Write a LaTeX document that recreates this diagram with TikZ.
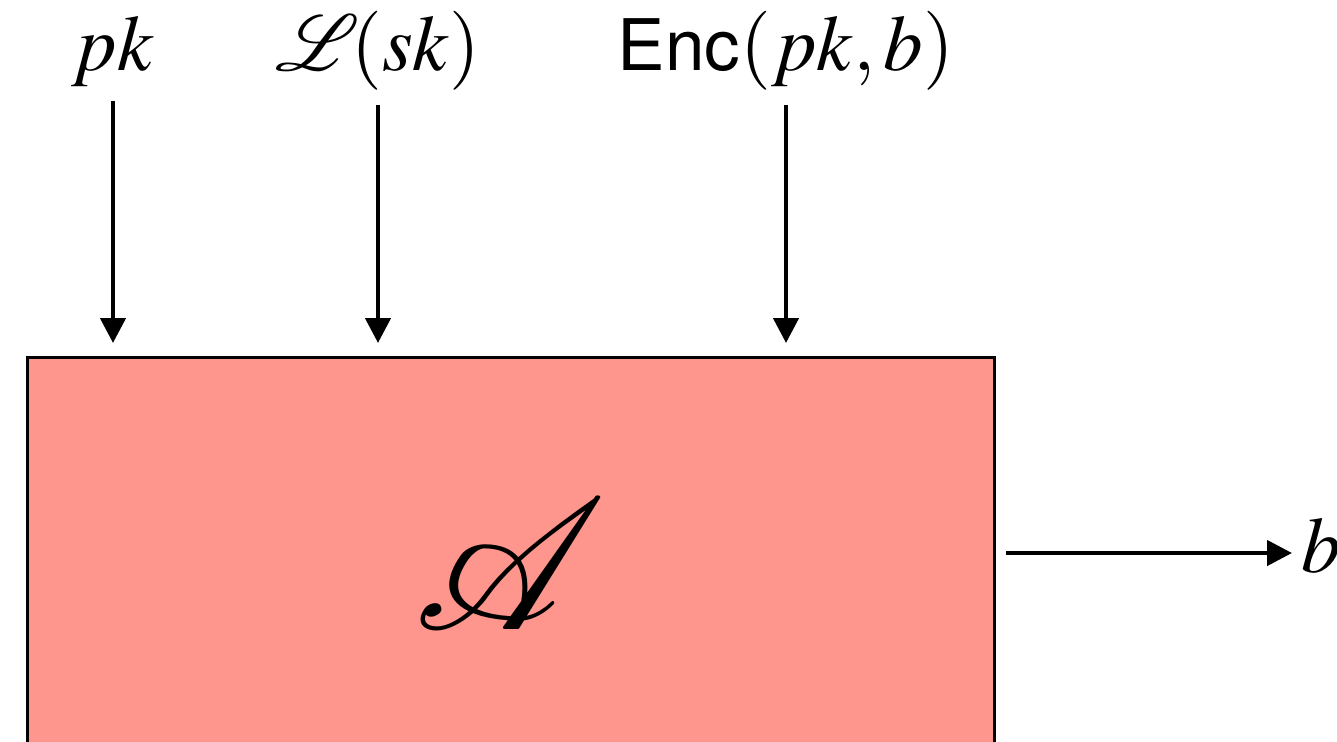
\documentclass[tikz,border=0pt]{standalone}
\usepackage{mathptmx}
\usepackage{mathrsfs}
\usepackage[no-math]{fontspec}
\setsansfont{TeX Gyre Heros}[Scale=0.9]
\usetikzlibrary{arrows.meta}
\DeclareFontFamily{U}{rsfs}{\skewchar\font127}
\DeclareFontShape{U}{rsfs}{m}{n}{<-> rsfs10}{}
\definecolor{advred}{HTML}{FE968D}

\begin{document}
\begin{tikzpicture}[
  x=0.02cm, y=-0.02cm,
  >={Triangle[length=0.5cm, width=0.5cm]},
  lbl/.style={font=\fontsize{45}{54}\selectfont, inner sep=0pt, anchor=base},
  advbox/.style={draw=black, fill=advred, line width=0.06cm, minimum width=19.36cm, minimum height=8.28cm,
    inner sep=0pt, font=\fontsize{106}{120}\selectfont},
  arr/.style={->, line width=0.09cm},
]
\useasboundingbox (0,0) rectangle (1337,741);
\clip (0,0) rectangle (1337,741);

% adversary
\node[advbox] (adv) at (511,564) {$\mathscr{A}$};

% inputs
\node[lbl] (pk) at (113,70) {$pk$};
\node[lbl] (leak) at (378,70) {$\mathscr{L}\mkern-2mu(sk)$};
\node[lbl] (enc) at (786,70) {$\textsf{Enc}(pk,b)$};
\coordinate (tip) at (0,343);

\draw[arr, shorten <=0.3cm] (pk.south) -- (pk.south |- tip);
\draw[arr, shorten <=0.3cm] (leak.south) -- (leak.south |- tip);
\draw[arr, shorten <=0.3cm] (enc.south) -- (enc.south |- tip);

% output
\node[lbl, anchor=base west] (b) at (1301,572) {$b$};
\coordinate (out) at (1292,553);
\draw[arr, shorten <=0.2cm] (adv.east |- out) -- (out);

\end{tikzpicture}
\end{document}
